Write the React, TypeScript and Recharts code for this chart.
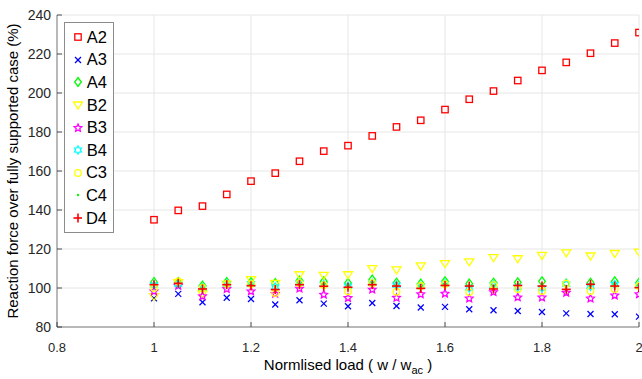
import React from 'react';
import {
  ScatterChart,
  Scatter,
  XAxis,
  YAxis,
  CartesianGrid,
} from 'recharts';

// normalised load steps
const loads = [1, 1.05, 1.1, 1.15, 1.2, 1.25, 1.3, 1.35, 1.4, 1.45, 1.5, 1.55, 1.6, 1.65, 1.7, 1.75, 1.8, 1.85, 1.9, 1.95, 2];

const a2 = [135, 139.8, 142, 148, 154.8, 158.9, 165, 170.2, 173, 178, 182.6, 186, 191.5, 196.8, 201, 206.4, 211.6, 215.7, 220.4, 225.6, 231];
const a3 = [94.7, 97, 92.7, 95, 94.4, 91.5, 93.7, 92, 90.6, 92.3, 90.8, 90, 90.3, 89.1, 88.6, 88.2, 87.7, 87, 86.7, 86.5, 85.3];
const a4 = [103, 103, 101.2, 103, 103, 102.5, 103.8, 103.4, 102.6, 104.3, 102.7, 102.2, 103.4, 102.2, 102.7, 102.9, 103.4, 102.2, 102.7, 103.4, 102.7];
const b2 = [95.6, 102.8, 97, 102, 104.3, 102.4, 106.8, 106.5, 106.8, 109.9, 109.3, 111.3, 112.5, 113.4, 115.6, 115, 116.7, 118, 116.4, 117.7, 118.4];
const b3 = [98.3, 101.2, 95.8, 99.5, 98.3, 97, 99.7, 96.6, 94.9, 99.2, 95, 96.8, 97.1, 94.6, 97.9, 95.2, 95.1, 97.6, 94.6, 96.2, 96.8];
const b4 = [101.5, 102, 100, 102, 102, 100.5, 102.5, 101.8, 101, 102.5, 101.5, 100.8, 102.2, 100, 101.5, 100.5, 100, 102, 100.8, 101.8, 101.5];
const c3 = [100, 103.4, 100, 102, 102, 97.4, 102.5, 101.5, 98.3, 102.5, 98.1, 101, 102, 97.9, 101.5, 99.5, 98.5, 102.2, 98.5, 99.5, 101];
const c4 = [101.9, 102.6, 99.7, 101.9, 101.4, 99.4, 101.9, 101.1, 100.6, 101.9, 101.2, 100, 101.5, 101.2, 99.7, 101.5, 101.2, 99.5, 102.1, 101.2, 100.4];
const d4 = [101.7, 102.4, 99.5, 101.7, 101.2, 99.2, 101.7, 100.9, 100.4, 101.7, 101, 99.8, 101.3, 101, 99.5, 101.3, 101, 99.3, 101.9, 101, 100.2];

const xTicks = [0.8, 1, 1.2, 1.4, 1.6, 1.8, 2];
const yTicks = [80, 100, 120, 140, 160, 180, 200, 220, 240];

type MarkerKind = 'square' | 'x' | 'diamond' | 'triDown' | 'pentagram' | 'hexagram' | 'circle' | 'dot' | 'plus';

const series: { name: string; values: number[]; color: string; marker: MarkerKind }[] = [
  { name: 'A2', values: a2, color: '#ff0000', marker: 'square' },
  { name: 'A3', values: a3, color: '#0000ff', marker: 'x' },
  { name: 'A4', values: a4, color: '#00ff00', marker: 'diamond' },
  { name: 'B2', values: b2, color: '#ffff00', marker: 'triDown' },
  { name: 'B3', values: b3, color: '#ff00ff', marker: 'pentagram' },
  { name: 'B4', values: b4, color: '#00ffff', marker: 'hexagram' },
  { name: 'C3', values: c3, color: '#ffff00', marker: 'circle' },
  { name: 'C4', values: c4, color: '#00ff00', marker: 'dot' },
  { name: 'D4', values: d4, color: '#ff0000', marker: 'plus' },
];

const FONT = '"Liberation Sans", Arial, Helvetica, sans-serif';
const AXIS = '#262626';

const starPoints = (cx: number, cy: number, n: number, ro: number, ri: number) => {
  const pts: string[] = [];
  for (let i = 0; i < n * 2; i++) {
    const r = i % 2 === 0 ? ro : ri;
    const a = -Math.PI / 2 + (i * Math.PI) / n;
    pts.push(`${cx + r * Math.cos(a)},${cy + r * Math.sin(a)}`);
  }
  return pts.join(' ');
};

const drawMarker = (kind: MarkerKind, color: string, cx: number, cy: number) => {
  const common = { fill: 'none', stroke: color, strokeWidth: 1.3 };
  switch (kind) {
    case 'square':
      return <rect x={cx - 3.2} y={cy - 3.2} width={6.4} height={6.4} {...common} />;
    case 'x':
      return (
        <g {...common}>
          <line x1={cx - 3} y1={cy - 3} x2={cx + 3} y2={cy + 3} />
          <line x1={cx - 3} y1={cy + 3} x2={cx + 3} y2={cy - 3} />
        </g>
      );
    case 'diamond':
      return <polygon points={`${cx},${cy - 4.5} ${cx + 3.3},${cy} ${cx},${cy + 4.5} ${cx - 3.3},${cy}`} {...common} />;
    case 'triDown':
      return <polygon points={`${cx - 4.5},${cy - 3} ${cx + 4.5},${cy - 3} ${cx},${cy + 4}`} {...common} />;
    case 'pentagram':
      return <polygon points={starPoints(cx, cy, 5, 4, 1.9)} {...common} />;
    case 'hexagram':
      return <polygon points={starPoints(cx, cy, 6, 4, 2.4)} {...common} />;
    case 'circle':
      return <circle cx={cx} cy={cy} r={3.3} {...common} />;
    case 'dot':
      return <circle cx={cx} cy={cy} r={1.2} fill={color} />;
    case 'plus':
      return (
        <g {...common} strokeWidth={1.6}>
          <line x1={cx - 4.5} y1={cy} x2={cx + 4.5} y2={cy} />
          <line x1={cx} y1={cy - 4.5} x2={cx} y2={cy + 4.5} />
        </g>
      );
  }
};

const fmt = (v: number) => String(Math.round(v * 10) / 10);

// MATLAB-style ticks point into the plot area
const XTick = (props: any) => {
  const { x, y, payload } = props;
  const axisY = y - 12;
  return (
    <g>
      <line x1={x} x2={x} y1={axisY} y2={axisY - 5} stroke={AXIS} strokeWidth={0.8} />
      <text x={x} y={y + 4} dy="0.71em" textAnchor="middle" fill={AXIS} fontSize={13} fontFamily={FONT}>
        {fmt(payload.value)}
      </text>
    </g>
  );
};

const YTick = (props: any) => {
  const { x, y, payload } = props;
  const axisX = x + 6;
  return (
    <g>
      <line x1={axisX} x2={axisX + 5} y1={y} y2={y} stroke={AXIS} strokeWidth={0.8} />
      <text x={x} y={y} dy="0.355em" textAnchor="end" fill={AXIS} fontSize={14} fontFamily={FONT}>
        {fmt(payload.value)}
      </text>
    </g>
  );
};

const XTitle = (props: any) => {
  const { x, y, width } = props.viewBox;
  return (
    <text x={x + width / 2} y={y + 43} textAnchor="middle" fill="#000" fontSize={15} fontFamily={FONT}>
      Normlised load ( w / w
      <tspan fontSize={11} dy={4}>ac</tspan>
      <tspan dy={-4}> )</tspan>
    </text>
  );
};

const YTitle = (props: any) => {
  const { x, y, height } = props.viewBox;
  const cx = x + 12;
  const cy = y + height / 2;
  return (
    <text
      x={cx}
      y={cy}
      transform={`rotate(-90 ${cx} ${cy})`}
      textAnchor="middle"
      dominantBaseline="central"
      fill="#000"
      fontSize={15}
      fontFamily={FONT}
    >
      Reaction force over fully supported case (%)
    </text>
  );
};

const LegendBox = () => (
  <div
    style={{
      position: 'absolute',
      left: 64,
      top: 22,
      border: '1px solid #8c8c8c',
      background: '#fff',
      padding: '3px 6px 3px 6px',
      fontFamily: FONT,
      fontSize: 16.5,
      color: '#000',
      width: 36,
    }}
  >
    {series.map((s) => (
      <div key={s.name} style={{ display: 'flex', alignItems: 'center', height: 22.6 }}>
        <svg width={14} height={14} style={{ marginRight: 4 }}>
          {drawMarker(s.marker, s.color, 7, 7)}
        </svg>
        <span>{s.name}</span>
      </div>
    ))}
  </div>
);

export default function App() {
  return (
    <div style={{ position: 'absolute', left: 0, top: 0, width: 642, height: 379, background: '#fff' }}>
      <ScatterChart width={642} height={379} margin={{ top: 15, right: 3, bottom: 0, left: 0 }}>
        <CartesianGrid stroke="#e6e6e6" strokeWidth={1} />
        <XAxis
          type="number"
          dataKey="x"
          domain={[0.8, 2]}
          ticks={xTicks}
          interval={0}
          allowDataOverflow
          height={52}
          tickSize={0}
          tickMargin={12}
          tick={<XTick />}
          stroke="#7f7f7f"
          label={{ content: XTitle }}
        />
        <YAxis
          type="number"
          dataKey="y"
          domain={[80, 240]}
          ticks={yTicks}
          interval={0}
          allowDataOverflow
          width={57}
          tickSize={0}
          tickMargin={6}
          tick={<YTick />}
          stroke="#7f7f7f"
          label={{ content: YTitle }}
        />
        {series.map((s) => (
          <Scatter
            key={s.name}
            name={s.name}
            data={loads.map((x, i) => ({ x, y: s.values[i] }))}
            fill={s.color}
            isAnimationActive={false}
            shape={(p: any) => drawMarker(s.marker, s.color, p.cx, p.cy)}
          />
        ))}
      </ScatterChart>
      <LegendBox />
    </div>
  );
}
